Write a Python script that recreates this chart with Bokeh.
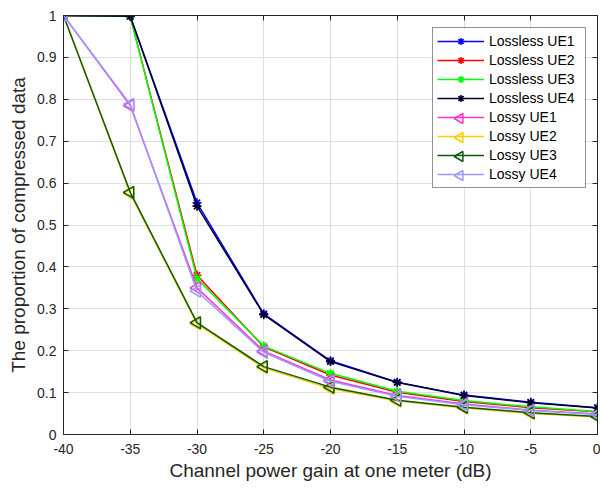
import math
from bokeh.plotting import figure
from bokeh.models import LinearAxis, FixedTicker, Legend, LegendItem, Range1d
from bokeh.embed import file_html
from bokeh.resources import INLINE

# Channel power gain at one meter (dB)
gain_db = [-40, -35, -30, -25, -20, -15, -10, -5, 0]

# Proportion of compressed data per user
lossless_ue1 = [1.0, 0.998, 0.553, 0.288, 0.176, 0.125, 0.094, 0.077, 0.064]
lossless_ue2 = [1.0, 0.998, 0.380, 0.209, 0.142, 0.101, 0.079, 0.064, 0.054]
lossless_ue3 = [1.0, 0.998, 0.372, 0.211, 0.146, 0.103, 0.081, 0.066, 0.055]
lossless_ue4 = [1.0, 0.998, 0.545, 0.286, 0.174, 0.124, 0.093, 0.076, 0.063]
lossy_ue1 = [1.0, 0.785, 0.350, 0.199, 0.130, 0.093, 0.073, 0.058, 0.049]
lossy_ue2 = [1.0, 0.575, 0.264, 0.159, 0.110, 0.080, 0.063, 0.050, 0.042]
lossy_ue3 = [1.0, 0.578, 0.267, 0.162, 0.113, 0.082, 0.065, 0.052, 0.043]
lossy_ue4 = [1.0, 0.788, 0.342, 0.196, 0.127, 0.091, 0.071, 0.057, 0.048]

x_ticks = [-40, -35, -30, -25, -20, -15, -10, -5, 0]
y_ticks = [0, 0.1, 0.2, 0.3, 0.4, 0.5, 0.6, 0.7, 0.8, 0.9, 1.0]
x_tick_labels = ["-40", "-35", "-30", "-25", "-20", "-15", "-10", "-5", "0"]
y_tick_labels = ["0", "0.1", "0.2", "0.3", "0.4", "0.5", "0.6", "0.7", "0.8", "0.9", "1"]

series = [
    ("Lossless UE1", lossless_ue1, "#0000ff", "asterisk"),
    ("Lossless UE2", lossless_ue2, "#ff0000", "asterisk"),
    ("Lossless UE3", lossless_ue3, "#00ff00", "asterisk"),
    ("Lossless UE4", lossless_ue4, "#000033", "asterisk"),
    ("Lossy UE1", lossy_ue1, "#ff33cc", "triangle_left"),
    ("Lossy UE2", lossy_ue2, "#ffcc00", "triangle_left"),
    ("Lossy UE3", lossy_ue3, "#0a5a0a", "triangle_left"),
    ("Lossy UE4", lossy_ue4, "#9999ff", "triangle_left"),
]

FONT = "Liberation Sans"
AXIS_COLOR = "#262626"

# canvas / frame geometry (pixels)
W, H = 600, 489
B_LEFT, B_RIGHT, B_TOP, B_BOTTOM = 63, 3, 15, 55
FRAME_W = W - B_LEFT - B_RIGHT
FRAME_H = H - B_TOP - B_BOTTOM

p = figure(width=W, height=H, output_backend="svg", toolbar_location=None,
           x_range=Range1d(-40, 0), y_range=Range1d(0, 1),
           min_border_left=B_LEFT, min_border_right=B_RIGHT,
           min_border_top=B_TOP, min_border_bottom=B_BOTTOM)
p.background_fill_color = "white"
p.border_fill_color = "white"
p.outline_line_color = AXIS_COLOR
p.outline_line_width = 1

# pixel-based ranges for the legend overlay
p.extra_x_ranges = {"px": Range1d(0, FRAME_W)}
p.extra_y_ranges = {"py": Range1d(0, FRAME_H)}

p.xgrid.ticker = FixedTicker(ticks=x_ticks)
p.ygrid.ticker = FixedTicker(ticks=y_ticks)
for g in (p.xgrid[0], p.ygrid[0]):
    g.grid_line_color = "#dfdfdf"
    g.grid_line_width = 1

def style_axis(ax, ticks, labels):
    ax.ticker = FixedTicker(ticks=ticks)
    ax.major_label_overrides = {t: l for t, l in zip(ticks, labels)}
    ax.major_tick_in = 5
    ax.major_tick_out = 0
    ax.minor_tick_in = 0
    ax.minor_tick_out = 0
    ax.axis_line_color = AXIS_COLOR
    ax.major_tick_line_color = AXIS_COLOR
    ax.major_label_text_color = AXIS_COLOR
    ax.major_label_text_font = FONT
    ax.major_label_text_font_size = "14px"
    ax.axis_label_text_font = FONT
    ax.axis_label_text_font_size = "19px"
    ax.axis_label_text_font_style = "normal"
    ax.axis_label_text_color = AXIS_COLOR

style_axis(p.xaxis[0], x_ticks, x_tick_labels)
style_axis(p.yaxis[0], y_ticks, y_tick_labels)
p.xaxis[0].axis_label = "Channel power gain at one meter (dB)"
p.yaxis[0].axis_label = "The proportion of compressed data"
p.xaxis[0].major_label_standoff = 9
p.yaxis[0].major_label_standoff = 7
p.xaxis[0].axis_label_standoff = 3
p.yaxis[0].axis_label_standoff = 5

# Box ticks on the top and right edges, without labels
top = LinearAxis()
right = LinearAxis()
style_axis(top, x_ticks, x_tick_labels)
style_axis(right, y_ticks, y_tick_labels)
for ax in (top, right):
    ax.major_label_text_font_size = "0px"
    ax.major_label_standoff = 0
p.add_layout(top, "above")
p.add_layout(right, "right")

items = []
tri_rows = []
for i, (label, ys, color, marker) in enumerate(series):
    ln = p.line(gain_db, ys, line_color=color, line_width=1.5)
    if marker == "asterisk":
        mk = p.scatter(gain_db, ys, marker="asterisk", size=9, line_color=color, line_width=1.6)
        items.append(LegendItem(label=label, renderers=[ln, mk]))
    else:
        # triangle rotated a quarter turn so it points left
        p.scatter(gain_db, ys, marker="triangle", size=12, angle=math.pi / 2,
                  line_color=color, fill_color=None, line_width=1.5)
        items.append(LegendItem(label=label, renderers=[ln]))
        tri_rows.append((i, color))

# Legend geometry in frame pixels (origin at the frame's bottom-left corner)
LEG_LEFT, LEG_BOTTOM = 369, 246
LEG_PAD, ROW_H, ROW_GAP, GLYPH_W, STANDOFF, LABEL_W = 4, 18, 1, 47, 5, 92
n_rows = len(series)
leg_height = 2 * LEG_PAD + n_rows * ROW_H + (n_rows - 1) * ROW_GAP
leg_width = 2 * LEG_PAD + GLYPH_W + STANDOFF + LABEL_W
leg_top = LEG_BOTTOM + leg_height

# opaque backing for the legend, so grid lines stay hidden behind it
p.quad(left=[LEG_LEFT], right=[LEG_LEFT + leg_width], bottom=[LEG_BOTTOM], top=[leg_top],
       fill_color="white", line_color=None, x_range_name="px", y_range_name="py")

# Left-pointing triangle keys for the lossy rows
glyph_cx = LEG_LEFT + LEG_PAD + GLYPH_W / 2
for i, color in tri_rows:
    cy = leg_top - LEG_PAD - i * (ROW_H + ROW_GAP) - ROW_H / 2
    p.scatter([glyph_cx], [cy], marker="triangle", size=10, angle=math.pi / 2,
              line_color=color, fill_color=None, line_width=1.5,
              x_range_name="px", y_range_name="py")

legend = Legend(items=items, location=(LEG_LEFT, LEG_BOTTOM))
legend.padding = LEG_PAD
legend.spacing = ROW_GAP
legend.glyph_width = GLYPH_W
legend.glyph_height = ROW_H
legend.label_height = ROW_H
legend.label_width = LABEL_W
legend.label_standoff = STANDOFF
legend.label_text_font = FONT
legend.label_text_font_size = "14px"
legend.label_text_color = "#000000"
legend.border_line_color = AXIS_COLOR
legend.border_line_width = 1
legend.background_fill_alpha = 0
p.add_layout(legend, "center")

open("out.html", "w").write(file_html(p, INLINE))
